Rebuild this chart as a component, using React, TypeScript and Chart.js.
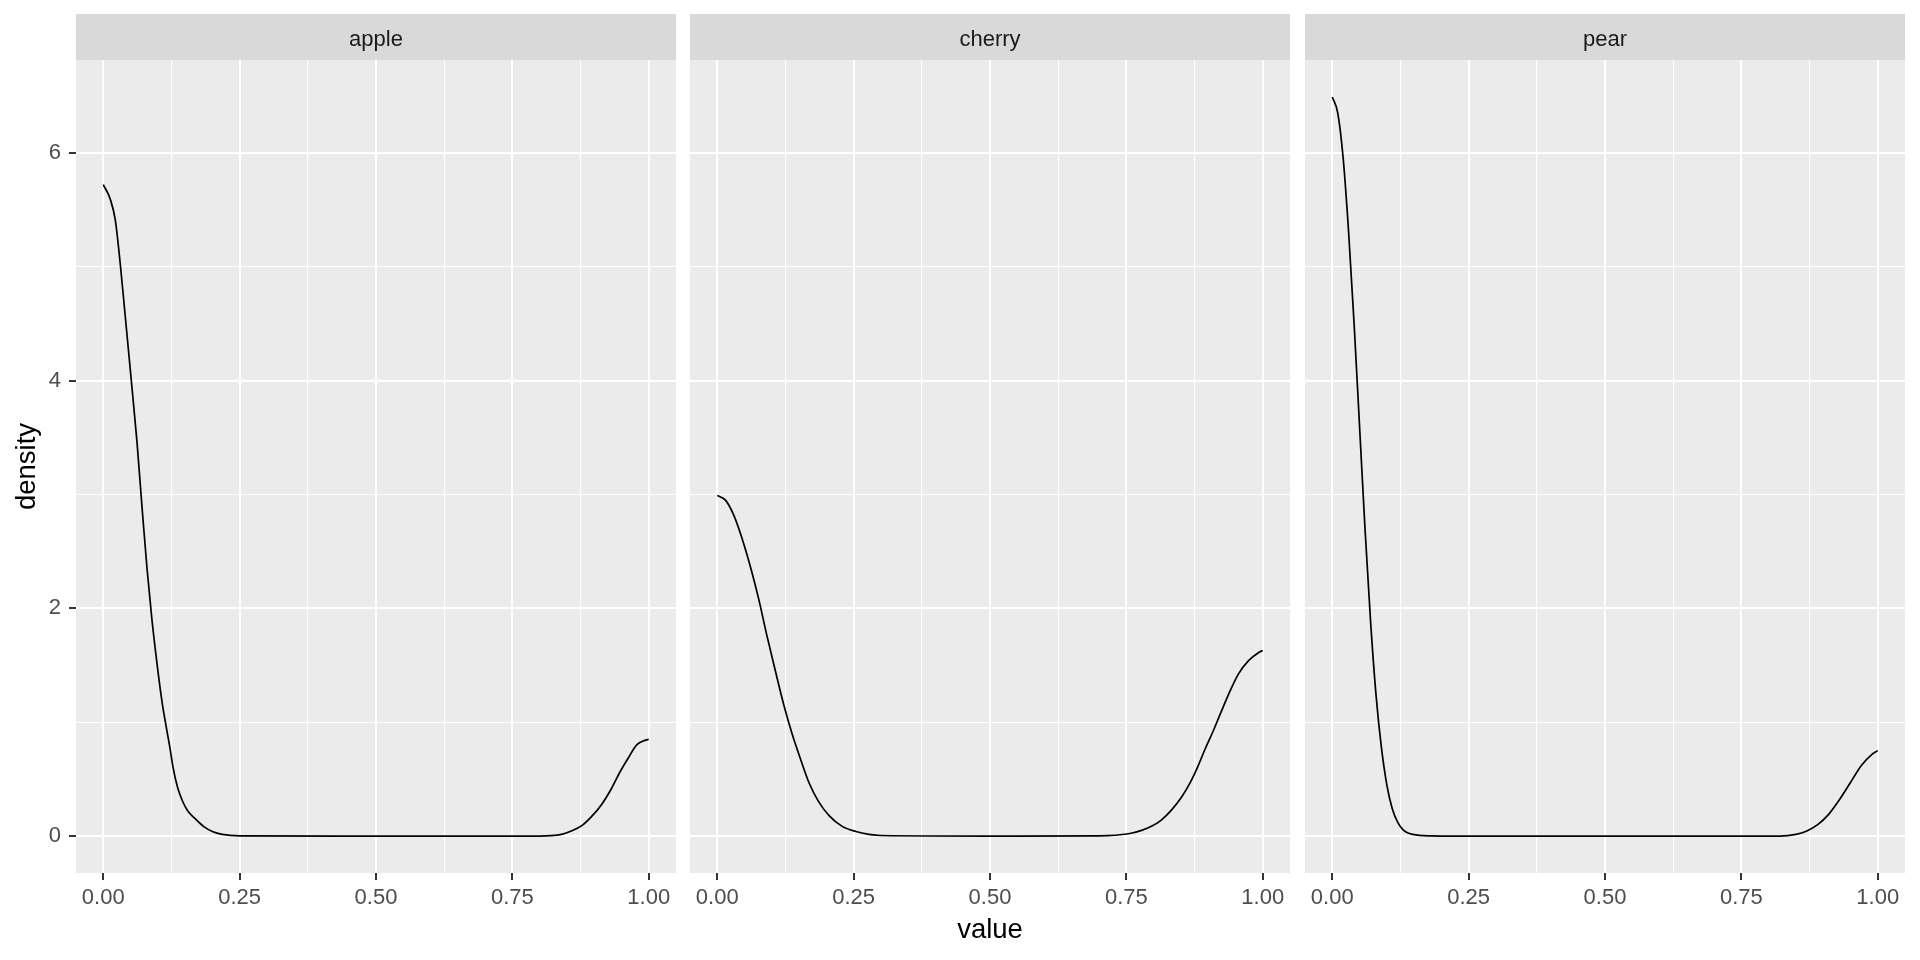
import React, { useEffect, useRef } from "react";
import { Chart, registerables } from "chart.js";

Chart.register(...registerables);

// ---------- data ----------
const PANELS = ["apple", "cherry", "pear"];

const APPLE_X = [0, 0.013, 0.022, 0.031, 0.04, 0.051, 0.062, 0.071, 0.08, 0.089, 0.102, 0.108, 0.115, 0.122, 0.128, 0.136, 0.145, 0.155, 0.169, 0.185, 0.2, 0.218, 0.25, 0.5, 0.8, 0.82, 0.84, 0.858, 0.878, 0.895, 0.914, 0.932, 0.947, 0.963, 0.978, 0.993, 1.0];
const APPLE_Y = [5.72, 5.59, 5.41, 5.03, 4.58, 4.02, 3.45, 2.89, 2.36, 1.91, 1.38, 1.17, 0.97, 0.78, 0.6, 0.43, 0.31, 0.22, 0.15, 0.08, 0.04, 0.015, 0.002, 0, 0, 0.003, 0.015, 0.044, 0.094, 0.17, 0.28, 0.42, 0.56, 0.69, 0.8, 0.84, 0.85];

const CHERRY_X = [0, 0.015, 0.03, 0.045, 0.061, 0.076, 0.091, 0.107, 0.122, 0.137, 0.153, 0.168, 0.186, 0.205, 0.229, 0.254, 0.278, 0.3, 0.5, 0.7, 0.754, 0.778, 0.796, 0.814, 0.833, 0.851, 0.866, 0.881, 0.894, 0.909, 0.922, 0.937, 0.955, 0.974, 0.992, 1.0];
const CHERRY_Y = [2.99, 2.95, 2.82, 2.62, 2.36, 2.08, 1.76, 1.44, 1.15, 0.9, 0.67, 0.47, 0.3, 0.18, 0.085, 0.04, 0.015, 0.005, 0, 0.002, 0.02, 0.05, 0.085, 0.14, 0.23, 0.34, 0.46, 0.61, 0.76, 0.92, 1.07, 1.24, 1.42, 1.54, 1.61, 1.63];

const PEAR_X = [0, 0.01, 0.02, 0.03, 0.04, 0.05, 0.06, 0.07, 0.08, 0.09, 0.1, 0.11, 0.12, 0.13, 0.14, 0.16, 0.18, 0.2, 0.5, 0.82, 0.85, 0.87, 0.89, 0.91, 0.93, 0.95, 0.97, 0.99, 1.0];
const PEAR_Y = [6.49, 6.35, 5.95, 5.3, 4.5, 3.6, 2.7, 1.9, 1.25, 0.78, 0.45, 0.24, 0.12, 0.055, 0.025, 0.006, 0.001, 0, 0, 0, 0.015, 0.045, 0.1, 0.19, 0.32, 0.47, 0.62, 0.72, 0.75];

const SERIES_X = [APPLE_X, CHERRY_X, PEAR_X];
const SERIES_Y = [APPLE_Y, CHERRY_Y, PEAR_Y];

const X_TICKS = [0, 0.125, 0.25, 0.375, 0.5, 0.625, 0.75, 0.875, 1];
const X_LABELS = ["0.00", "", "0.25", "", "0.50", "", "0.75", "", "1.00"];
const Y_TICKS = [0, 1, 2, 3, 4, 5, 6];
const Y_LABELS = ["0", "", "2", "", "4", "", "6"];

const X_TITLE = "value";
const Y_TITLE = "density";

// ---------- layout ----------
const FONT = 'Arial, "Liberation Sans", sans-serif';
const STRIP_TOP = 14;
const PLOT_TOP = 60;
const X_AXIS_H = 87;
const CANVASES = [
  { left: 0, width: 683, padL: 0, padR: 7, yW: 76 },
  { left: 683, width: 614, padL: 7, padR: 7, yW: 0 },
  { left: 1297, width: 623, padL: 8, padR: 15, yW: 0 },
];

const panelPlugin = {
  id: "panelBg",
  beforeDraw(chart: any, _args: any, opts: any) {
    const { ctx, chartArea: a } = chart;
    ctx.save();
    ctx.fillStyle = "#EBEBEB";
    ctx.fillRect(a.left, a.top, a.right - a.left, a.bottom - a.top);
    ctx.fillStyle = "#D9D9D9";
    ctx.fillRect(a.left, STRIP_TOP, a.right - a.left, a.top - STRIP_TOP);
    ctx.fillStyle = "#1A1A1A";
    ctx.font = `22px ${FONT}`;
    ctx.textAlign = "center";
    ctx.textBaseline = "middle";
    ctx.fillText(opts.label, (a.left + a.right) / 2, 39.5);
    ctx.restore();
  },
};

function isMajor(labels: string[], ticks: number[], v: number) {
  const i = ticks.indexOf(v);
  return i >= 0 && labels[i] !== "";
}

function Panel({ idx }: { idx: number }) {
  const ref = useRef<HTMLCanvasElement | null>(null);
  const cfg = CANVASES[idx];
  useEffect(() => {
    if (!ref.current) return;
    const showY = idx === 0;
    const pts = SERIES_X[idx].map((x, i) => ({ x, y: SERIES_Y[idx][i] }));
    const chart = new Chart(ref.current, {
      type: "scatter",
      data: {
        datasets: [
          {
            label: PANELS[idx],
            data: pts,
            showLine: true,
            borderColor: "#000000",
            borderWidth: 1.7,
            pointRadius: 0,
            cubicInterpolationMode: "monotone",
          } as any,
        ],
      },
      plugins: [panelPlugin],
      options: {
        animation: false,
        responsive: false,
        devicePixelRatio: 1,
        layout: { padding: { left: cfg.padL, right: cfg.padR, top: PLOT_TOP, bottom: 0 } },
        plugins: {
          legend: { display: false },
          tooltip: { enabled: false },
          title: { display: false },
          panelBg: { label: PANELS[idx] },
        } as any,
        scales: {
          x: {
            type: "linear",
            min: -0.05,
            max: 1.05,
            afterBuildTicks: (s: any) => {
              s.ticks = X_TICKS.map((v) => ({ value: v }));
            },
            afterFit: (s: any) => {
              s.height = X_AXIS_H;
            },
            border: { display: false },
            grid: {
              color: "#FFFFFF",
              lineWidth: (c: any) => (c.tick && isMajor(X_LABELS, X_TICKS, c.tick.value) ? 2 : 1.1),
              tickColor: (c: any) => (c.tick && isMajor(X_LABELS, X_TICKS, c.tick.value) ? "#333333" : "rgba(0,0,0,0)"),
              tickLength: 7,
              tickWidth: 2,
              drawTicks: true,
            },
            ticks: {
              autoSkip: false,
              maxRotation: 0,
              minRotation: 0,
              padding: 5,
              color: "#4D4D4D",
              font: { size: 22, family: FONT },
              callback: (_v: any, i: number) => X_LABELS[i],
            },
            title:
              idx === 1
                ? {
                    display: true,
                    text: X_TITLE,
                    color: "#000000",
                    font: { size: 27.5, family: FONT },
                    padding: { top: 0, bottom: 13.5 },
                  }
                : { display: false },
          } as any,
          y: {
            type: "linear",
            min: -0.3245,
            max: 6.8145,
            afterBuildTicks: (s: any) => {
              s.ticks = Y_TICKS.map((v) => ({ value: v }));
            },
            afterFit: (s: any) => {
              s.width = cfg.yW;
            },
            border: { display: false },
            grid: {
              color: "#FFFFFF",
              lineWidth: (c: any) => (c.tick && isMajor(Y_LABELS, Y_TICKS, c.tick.value) ? 2 : 1.1),
              tickColor: (c: any) => (c.tick && isMajor(Y_LABELS, Y_TICKS, c.tick.value) ? "#333333" : "rgba(0,0,0,0)"),
              tickLength: 7,
              tickWidth: 2,
              drawTicks: showY,
            },
            ticks: {
              display: showY,
              padding: 8,
              color: "#4D4D4D",
              font: { size: 22, family: FONT },
              callback: (_v: any, i: number) => Y_LABELS[i],
            },
            title: showY
              ? {
                  display: true,
                  text: Y_TITLE,
                  color: "#000000",
                  font: { size: 27.5, family: FONT },
                  padding: { top: 11, bottom: 0 },
                }
              : { display: false },
          } as any,
        },
      },
    });
    return () => chart.destroy();
  }, [idx]);
  return (
    <canvas
      ref={ref}
      width={cfg.width}
      height={960}
      style={{ position: "absolute", left: cfg.left, top: 0, width: cfg.width, height: 960 }}
    />
  );
}

export default function App() {
  return (
    <div style={{ position: "absolute", left: 0, top: 0, width: 1920, height: 960, background: "#FFFFFF", overflow: "hidden" }}>
      {PANELS.map((_, i) => (
        <Panel key={i} idx={i} />
      ))}
    </div>
  );
}
